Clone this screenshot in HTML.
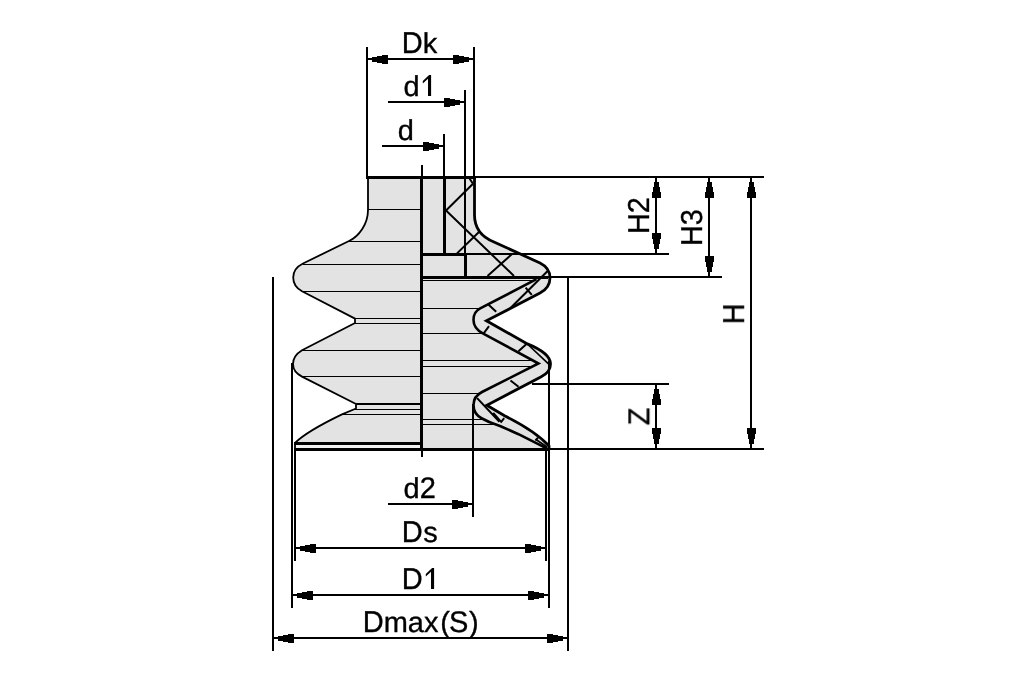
<!DOCTYPE html>
<html><head><meta charset="utf-8">
<style>
html,body{margin:0;padding:0;background:#fff;}
body{width:1010px;height:673px;overflow:hidden;}
svg{display:block;}
text{font-family:"Liberation Sans",sans-serif;font-size:29px;fill:#000;stroke:#000;stroke-width:0.35px;text-rendering:geometricPrecision;}
</style></head><body>
<svg width="1010" height="673" viewBox="0 0 1010 673">
<rect width="1010" height="673" fill="#fff"/>
<defs>
<path id="arH" d="M5,-2 H10 V-3 H15 V-4 H21 V5 H15 V4 H10 V3 H5 Z"/>
<path id="arV" d="M-2,5 V10 H-3 V15 H-4 V21 H5 V15 H4 V10 H3 V5 Z"/>
</defs>

<!-- gray fills -->
<g fill="#e3e3e3" stroke="none">
<path id="leftBody" d="M368,177.5 L368,210 C368,224 359,236.5 349,241 L303,263.5 C296,267 293.2,272 293.2,277.5 C293.2,283 296,288 302,291.3 L355,318.6 L355,323 L302,350.3 C296,354 293,359 293,364 C293,369 296,373.5 302,376.6 L356,404 L356,408.5 L342,414.4 C322,424 305,433 295,443 L295,449 L421,449 L421,177.5 Z"/>
<path id="rightBody" d="M421,177.5 L474.5,177.5 L474.5,215 C474.5,230 484,238 494,242 L540,263 C546,266 550,271 550,277.8 C550,284.5 547,289.5 540,293 L486.4,320.8 L527.4,343.9 C540,349 550.5,355 550.5,364 C550.5,371 546,374.5 540.8,377 L486.8,405.3 L505,416 C520,423.5 538,434 549,446 L549,449 L421,449 Z"/>
</g>

<!-- thin interior lines -->
<g stroke="#000" stroke-width="1" fill="none" shape-rendering="crispEdges">
<path d="M368,209.5H421 M349,241.5H421 M303,264.5H421 M302,291.5H421 M355,318.5H421 M355,323.5H421 M302,350.5H421 M302,376.5H421 M353,409.5H421 M342,414.5H421"/>
<path d="M421,280.5H534 M421,308.5H480 M421,333.5H483 M421,360.5H531 M421,366.5H531 M421,393.5H480 M421,419.5H485 M421,424.5H497"/>
</g>

<!-- left outline (thin) -->
<path d="M368,177.5 L368,210 C368,224 359,236.5 349,241 L303,263.5 C296,267 293.2,272 293.2,277.5 C293.2,283 296,288 302,291.3 L355,318.6 L355,323 L302,350.3 C296,354 293,359 293,364 C293,369 296,373.5 302,376.6 L356,404 L356,408.5 L342,414.4 C322,424 305,433 295,443 L295,449" fill="none" stroke="#000" stroke-width="1.8" stroke-linejoin="round"/>

<!-- right outer outline (thick) -->
<path d="M474.5,177.5 L474.5,215 C474.5,230 484,238 494,242 L540,263 C546,266 550,271 550,277.8 C550,284.5 547,289.5 540,293 L486.4,320.8 L527.4,343.9 C540,349 550.5,355 550.5,364 C550.5,371 546,374.5 540.8,377 L486.8,405.3 L505,416 C520,423.5 538,434 549,446 L549,449" fill="none" stroke="#000" stroke-width="2.8" stroke-linejoin="miter"/>
<!-- inner profile -->
<path d="M536.5,279.2 L480.2,308.4 C476,310.5 473.5,315 473.5,320 C473.5,326 476.5,330 482.8,333.3 L538.5,363.5 L482,392 C476,395 473.5,400 473.5,405 C473.5,412 477,416 482,418.5 C490,423 496,424.5 500.6,426.2 L518.5,434.2 L536.3,443.1 L547,448.5" fill="none" stroke="#000" stroke-width="2.6" stroke-linejoin="miter"/>
<path d="M527.4,344 L549,364.4 M536,439.5 L547,447" fill="none" stroke="#000" stroke-width="1.7"/>

<!-- hatching -->
<g stroke="#000" stroke-width="2" fill="none">
<path d="M473,183.8 L446,210.5 L514,276 M469.5,178.5 L473,183.8 M480,231 L457,253.4 M512,254 L487.5,276 M547.9,270.7 L511,307.5"/>
<path d="M488.6,304.8 L496.2,311.8 M525.6,287.6 L531.8,294.8 M489,326.2 L483.7,333.3 M526.5,344 L518.5,351.3 M510.5,380.5 L518.5,386.7 M477.1,398.1 L499.4,421.7 M493.2,412.8 L500.7,421.3 M504.2,418.2 L500.6,422.6 M538,437.8 L535.4,440.5"/>
</g>

<!-- thick structural lines -->
<rect x="296" y="445" width="124" height="3" fill="#f1f1f1"/>
<g stroke="#000" fill="none" shape-rendering="crispEdges">
<path d="M366,177.5H476" stroke-width="3"/>
<path d="M421.5,177V451" stroke-width="3"/>
<path d="M421.5,165V177 M421.5,451V457" stroke-width="2"/>
<path d="M444.5,177V255" stroke-width="3"/>
<path d="M465.5,253V277" stroke-width="3"/>
<path d="M421,254.5H466" stroke-width="3"/>
<path d="M421,277.5H548" stroke-width="3"/>
<path d="M356,404H421" stroke-width="2"/>
<path d="M294,443.5H421" stroke-width="3"/>
<path d="M294,449.5H550" stroke-width="3"/>
</g>

<!-- extension & dimension lines -->
<g stroke="#000" stroke-width="2" fill="none" shape-rendering="crispEdges">
<path d="M367,47V177 M474,47V177 M367,59H474"/>
<path d="M465,90V253 M388,102H465"/>
<path d="M444,134V177 M382,146H444"/>
<path d="M474,177H764 M465,254H669 M540,277H722 M532,384H669 M549,449H764"/>
<path d="M656,177V254 M709,177V277 M751,177V449 M656,384V449"/>
<path d="M473,404V517 M388,504H473"/>
<path d="M295,449V561 M546,449V561 M295,548H546"/>
<path d="M292,363V608 M549,361V608 M292,595H549"/>
<path d="M273,277V651 M568,278V651 M273,638H568"/>
</g>

<!-- arrows -->
<g fill="#000" shape-rendering="crispEdges">
<use href="#arH" transform="translate(367,59)"/>
<use href="#arH" transform="translate(474,59) scale(-1,1)"/>
<use href="#arH" transform="translate(465,102) scale(-1,1)"/>
<use href="#arH" transform="translate(444,146) scale(-1,1)"/>
<use href="#arH" transform="translate(473,504) scale(-1,1)"/>
<use href="#arH" transform="translate(295,548)"/>
<use href="#arH" transform="translate(546,548) scale(-1,1)"/>
<use href="#arH" transform="translate(292,595)"/>
<use href="#arH" transform="translate(549,595) scale(-1,1)"/>
<use href="#arH" transform="translate(273,638)"/>
<use href="#arH" transform="translate(568,638) scale(-1,1)"/>
<use href="#arV" transform="translate(656,177)"/>
<use href="#arV" transform="translate(656,254) scale(1,-1)"/>
<use href="#arV" transform="translate(709,177)"/>
<use href="#arV" transform="translate(709,277) scale(1,-1)"/>
<use href="#arV" transform="translate(751,177)"/>
<use href="#arV" transform="translate(751,449) scale(1,-1)"/>
<use href="#arV" transform="translate(656,384)"/>
<use href="#arV" transform="translate(656,449) scale(1,-1)"/>
</g>

<!-- labels -->
<defs><path id="one" d="M0,0 V-21 H-2 L-8.3,-15 V-12.6 L-3.1,-17.2 V0 Z"/></defs>
<g opacity="0.999">
<text transform="translate(401.7,53) scale(1,1.04)">D</text>
<text transform="translate(422.7,53) scale(1,0.985)">k</text>
<text transform="translate(403.6,96) scale(1,0.985)">d</text>
<use href="#one" transform="translate(431.1,96)"/>
<text transform="translate(397.8,140) scale(1,0.985)">d</text>
<text transform="translate(403.6,498) scale(1,0.985)">d</text>
<text transform="translate(419.7,498) scale(1,1.03)">2</text>
<text transform="translate(401.7,542) scale(1,1.04)">D</text>
<text transform="translate(423.2,542) scale(1,0.99)">s</text>
<text transform="translate(401.7,589) scale(1,1.04)">D</text>
<use href="#one" transform="translate(434.1,589)"/>
<text transform="translate(362.7,632) scale(1,1.04)">D</text>
<text transform="translate(383.7,632) scale(1,0.99)">max</text>
<text transform="translate(440.2,632) scale(1,1.0)">(</text>
<text transform="translate(449.1,632) scale(1,1.03)">S</text>
<text transform="translate(469.1,632) scale(1,1.0)">)</text>
<text transform="translate(649.1,234.1) rotate(-90) scale(1,1.04)">H2</text>
<text transform="translate(702.2,246.1) rotate(-90) scale(1,1.04)">H3</text>
<text transform="translate(744,324.3) rotate(-90) scale(1,1.04)">H</text>
<text transform="translate(649.3,425.3) rotate(-90) scale(1,1.04)">Z</text>
</g>
</svg>
</body></html>
